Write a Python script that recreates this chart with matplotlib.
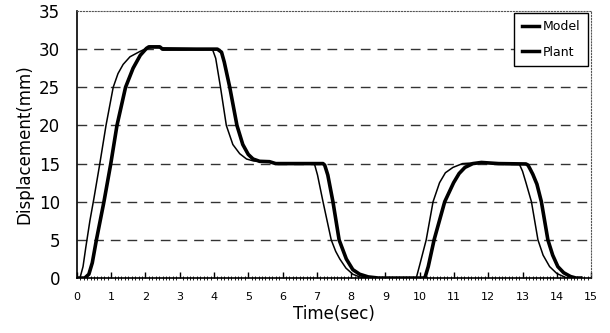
import matplotlib
matplotlib.use("Agg")
from matplotlib import pyplot as plt
from matplotlib.ticker import MultipleLocator

# thin curve (Model)
model_t = [0, 0.09, 0.18, 0.26, 0.38, 0.50, 0.67, 0.85, 1.06, 1.20, 1.35, 1.55, 1.84, 2.03, 2.2,
           3.9, 3.97, 4.05, 4.19, 4.36, 4.55, 4.75, 4.95, 5.15, 5.33, 5.6, 5.8,
           6.9, 6.94, 7.02, 7.18, 7.30, 7.42, 7.55, 7.67, 7.85, 8.05, 8.25, 8.5,
           9.9, 10.0, 10.19, 10.39, 10.58, 10.75, 10.97, 11.25, 11.6, 12.0, 12.5, 12.9,
           12.92, 13.0, 13.1, 13.26, 13.45, 13.6, 13.79, 14.0, 14.27, 14.5]
model_y = [0, 0, 1.5, 4.0, 7.5, 10.5, 15, 20, 25, 26.8, 28, 29, 29.7, 30.1, 30.2,
           30, 29.8, 28.8, 25, 20, 17.5, 16.3, 15.6, 15.35, 15.3, 15.2, 15,
           15, 14.8, 13.5, 10, 7.5, 5, 3.5, 2.5, 1.3, 0.5, 0.15, 0,
           0, 1.7, 5, 10, 12.5, 13.8, 14.5, 15, 15.1, 15.05, 14.9, 14.9,
           14.8, 14, 12.5, 10, 5, 3, 1.5, 0.6, 0.05, 0]

# thick curve (Plant)
plant_t = [0, 0.23, 0.35, 0.45, 0.57, 0.79, 0.99, 1.17, 1.42, 1.64, 1.85, 2.03, 2.1, 2.42, 2.5,
           4.1, 4.22, 4.3, 4.46, 4.67, 4.84, 5.0, 5.14, 5.33, 5.62, 5.8,
           7.18, 7.23, 7.32, 7.47, 7.65, 7.86, 8.05, 8.25, 8.5, 8.8,
           10.15, 10.25, 10.42, 10.73, 10.99, 11.15, 11.32, 11.55, 11.8, 12.3, 13.1,
           13.16, 13.22, 13.30, 13.42, 13.55, 13.74, 13.88, 14.03, 14.2, 14.4, 14.56, 14.7]
plant_y = [0, 0, 0.5, 2, 5, 10, 15, 20, 25, 27.5, 29.2, 30.1, 30.3, 30.3, 30,
           30, 29.6, 28.3, 25, 20, 17.5, 16.2, 15.6, 15.3, 15.25, 15,
           15, 14.8, 13.5, 10, 5, 2.5, 1.1, 0.5, 0.15, 0,
           0, 1.5, 5, 10, 12.5, 13.7, 14.5, 15, 15.15, 15, 14.95,
           14.8, 14.3, 13.6, 12.3, 10, 5, 3, 1.5, 0.7, 0.2, 0, 0]

x_ticks = list(range(0, 16))
y_ticks = list(range(0, 36, 5))
grid_levels = [5, 10, 15, 20, 25, 30]

fig = plt.figure(figsize=(6.1, 3.33), dpi=100)
ax = fig.add_axes([0.126, 0.165, 0.843, 0.802])

for g in grid_levels:
    ax.axhline(g, color="#333333", lw=1.0, dashes=(7, 5), zorder=1)

ax.plot(model_t, model_y, color="black", lw=1.1, label="Model", zorder=3)
ax.plot(plant_t, plant_y, color="black", lw=2.6, label="Plant", zorder=3)

ax.set_xlim(0, 15)
ax.set_ylim(0, 35)
ax.set_xticks(x_ticks)
ax.set_yticks(y_ticks)
ax.xaxis.set_minor_locator(MultipleLocator(0.1))
ax.tick_params(axis="x", which="major", direction="in", length=4, width=1,
               labelsize=8, pad=10)
ax.tick_params(axis="x", which="minor", direction="inout", length=2.5, width=0.6)
ax.tick_params(axis="y", which="major", length=0, labelsize=12, pad=12)

for side in ["top", "right"]:
    ax.spines[side].set_linestyle(":")
    ax.spines[side].set_linewidth(0.8)
    ax.spines[side].set_color("#555555")
ax.spines["left"].set_linewidth(1.2)
ax.spines["bottom"].set_linewidth(1.2)

ax.set_xlabel("Time(sec)", fontsize=12, labelpad=2)
ax.set_ylabel("Displacement(mm)", fontsize=12, labelpad=4)

leg = ax.legend(loc="upper right", bbox_to_anchor=(0.994, 0.993), borderaxespad=0,
                fancybox=False, edgecolor="black", framealpha=1, fontsize=9,
                handlelength=1.4, handletextpad=0.3, labelspacing=1.0,
                borderpad=0.6)
leg.get_frame().set_linewidth(1.0)
for h in leg.get_lines():
    h.set_linewidth(2.5)

fig.savefig("out.png", dpi=100)
